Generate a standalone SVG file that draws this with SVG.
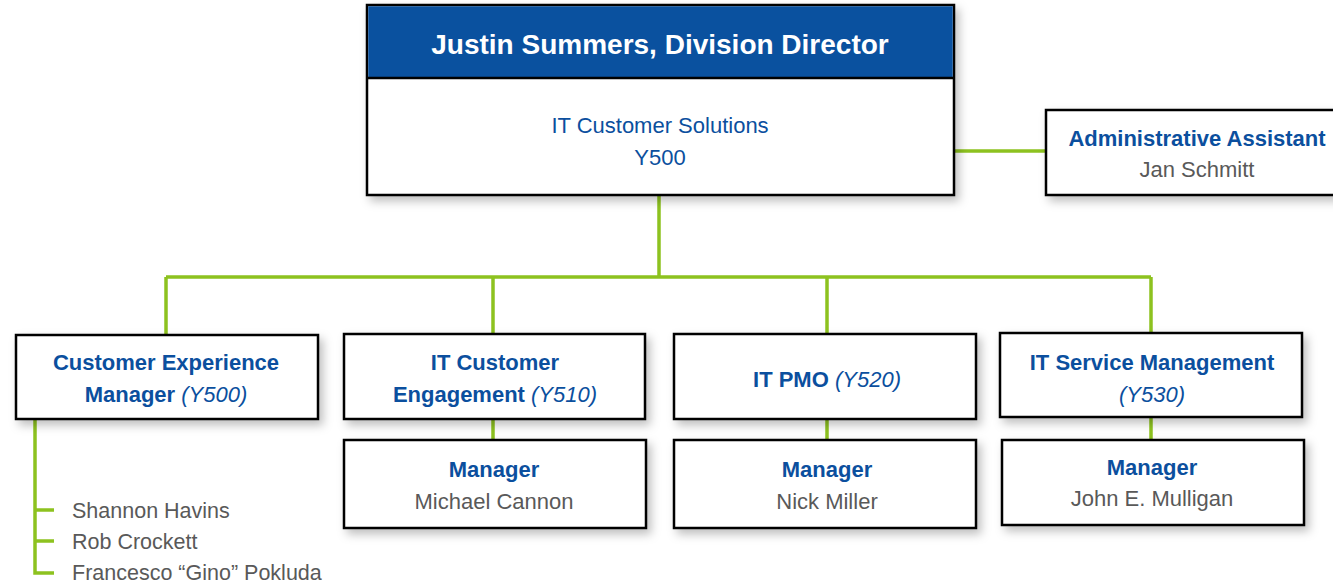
<svg xmlns="http://www.w3.org/2000/svg" width="1333" height="586" viewBox="0 0 1333 586">
<defs>
<filter id="sh" x="-10%" y="-20%" width="125%" height="150%">
<feDropShadow dx="4" dy="5" stdDeviation="5" flood-color="#000" flood-opacity="0.25"/>
</filter>
<style>
.box{fill:#fff;stroke:#000;stroke-width:2.5;filter:url(#sh)}
.t{font-family:"Liberation Sans",Arial,sans-serif;text-anchor:middle}
.b{font-weight:bold;fill:#0B4F9E;font-size:22px}
.n{fill:#0B4F9E;font-size:22px}
.i{font-style:italic;font-weight:normal}
.g{fill:#595959;font-size:22px}
.c{stroke:#8DC21F;stroke-width:3.5;fill:none}
.l{font-family:"Liberation Sans",Arial,sans-serif;fill:#595959;font-size:21.5px}
</style>
</defs>
<g id="connectors">
<path class="c" d="M954 151H1046"/>
<path class="c" d="M659 195V277M166 277H1151M166 277V335M493 277V334M827 277V334M1151 277V333"/>
<path class="c" d="M493 419V440M827 419V440M1151 417V440"/>
<path class="c" d="M35 419V573H54M35 510H54M35 541H54"/>
</g>
<g id="director">
<rect class="box" x="367" y="5" width="587" height="190"/>
<rect x="368.25" y="6.25" width="584.5" height="72" fill="#0A519F"/>
<line x1="367" y1="78" x2="954" y2="78" stroke="#000" stroke-width="2.5"/>
<text class="t" x="660" y="54" font-size="28" font-weight="bold" fill="#fff">Justin Summers, Division Director</text>
<text class="t n" x="660" y="133">IT Customer Solutions</text>
<text class="t n" x="660" y="165">Y500</text>
</g>
<g id="admin">
<rect class="box" x="1046" y="110" width="295" height="85"/>
<text class="t b" x="1197" y="146">Administrative Assistant</text>
<text class="t g" x="1197" y="177">Jan Schmitt</text>
</g>
<g id="cem">
<rect class="box" x="16" y="335" width="302" height="84"/>
<text class="t b" x="166" y="370">Customer Experience</text>
<text class="t b" x="166" y="402">Manager <tspan class="i">(Y500)</tspan></text>
</g>
<g id="itce">
<rect class="box" x="344" y="334" width="301" height="85"/>
<text class="t b" x="495" y="370">IT Customer</text>
<text class="t b" x="495" y="402">Engagement <tspan class="i">(Y510)</tspan></text>
</g>
<g id="itpmo">
<rect class="box" x="674" y="334" width="302" height="85"/>
<text class="t b" x="827" y="387">IT PMO <tspan class="i">(Y520)</tspan></text>
</g>
<g id="itsm">
<rect class="box" x="1000" y="333" width="302" height="84"/>
<text class="t b" x="1152" y="370">IT Service Management</text>
<text class="t b" x="1152" y="402"><tspan class="i">(Y530)</tspan></text>
</g>
<g id="mgr-itce">
<rect class="box" x="344" y="440" width="302" height="88"/>
<text class="t b" x="494" y="477">Manager</text>
<text class="t g" x="494" y="509">Michael Cannon</text>
</g>
<g id="mgr-itpmo">
<rect class="box" x="674" y="440" width="302" height="88"/>
<text class="t b" x="827" y="477">Manager</text>
<text class="t g" x="827" y="509">Nick Miller</text>
</g>
<g id="mgr-itsm">
<rect class="box" x="1002" y="440" width="302" height="85"/>
<text class="t b" x="1152" y="475">Manager</text>
<text class="t g" x="1152" y="506">John E. Mulligan</text>
</g>
<g id="cem-staff">
<text class="l" x="72" y="518">Shannon Havins</text>
<text class="l" x="72" y="549">Rob Crockett</text>
<text class="l" x="72" y="580">Francesco “Gino” Pokluda</text>
</g>
</svg>
